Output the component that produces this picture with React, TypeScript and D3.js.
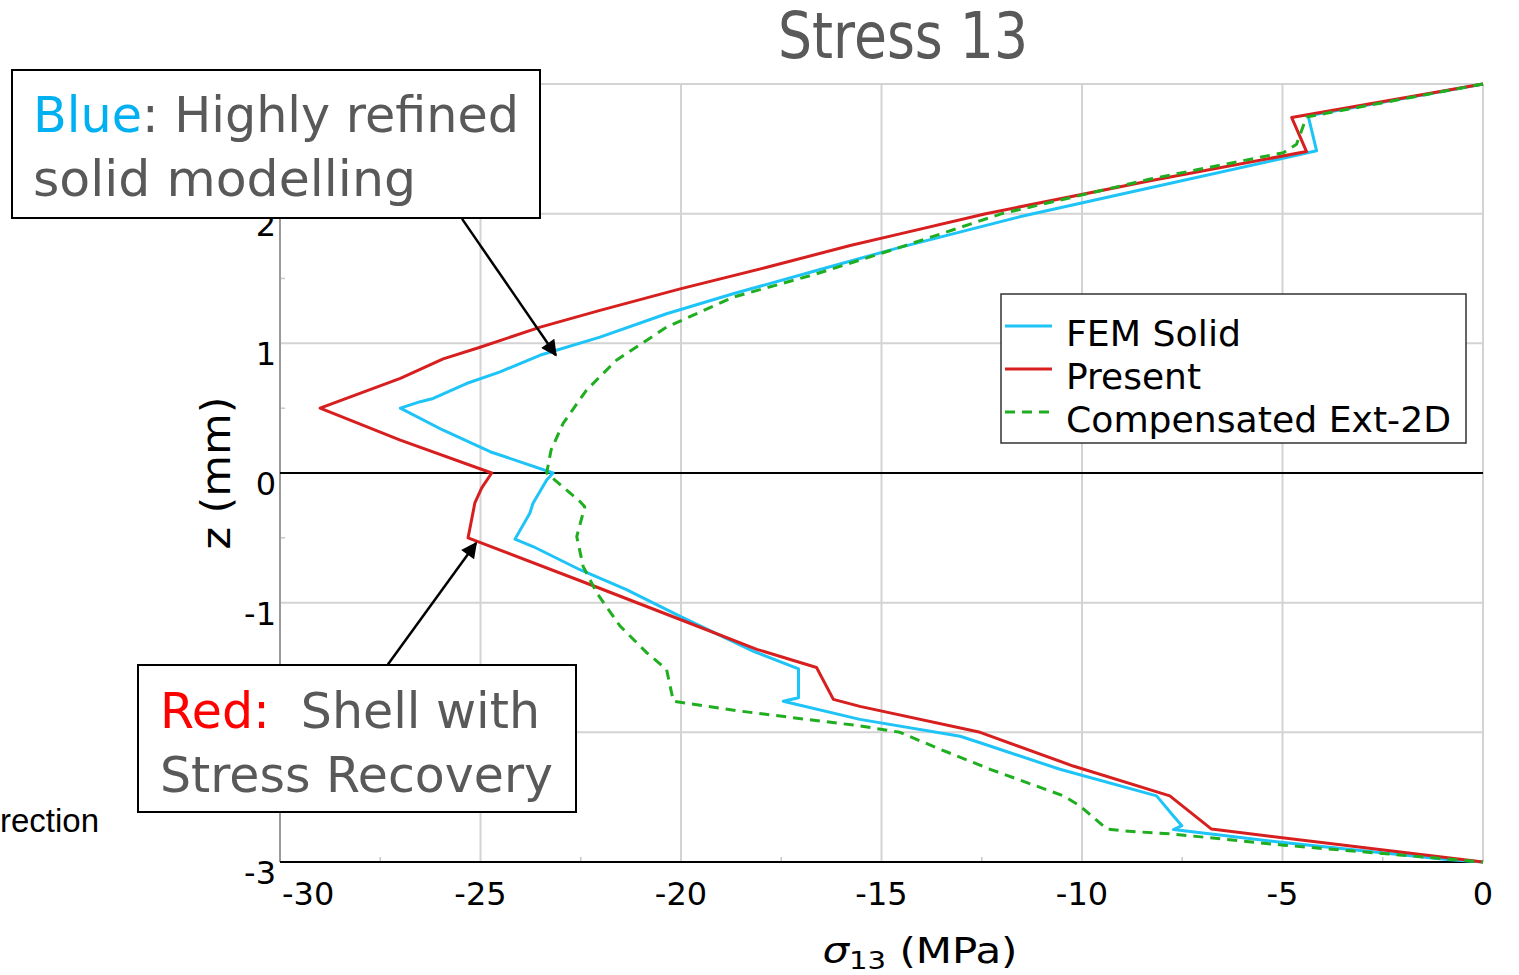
import React, { useEffect, useRef } from 'react';
import * as d3 from 'd3';

type Pt = [number, number]; // [sigma13 (MPa), z (mm)]

// FEM Solid (blue)
const femSolid: Pt[] = [
  [0, 3], [-4.36, 2.754], [-4.15, 2.485], [-8.3, 2.2], [-11.5, 1.98], [-14.54, 1.74],
  [-16.62, 1.562], [-18.7, 1.382], [-20.36, 1.228], [-22.02, 1.048], [-23.52, 0.908],
  [-24.51, 0.78], [-25.35, 0.69], [-26.18, 0.575], [-26.5, 0.55], [-27.0, 0.5],
  [-25.93, 0.33], [-24.76, 0.164], [-23.19, 0], [-23.35, -0.054], [-23.69, -0.233],
  [-23.77, -0.31], [-24.14, -0.51], [-23.69, -0.567], [-22.52, -0.746], [-21.36, -0.9],
  [-20.02, -1.105], [-18.19, -1.375], [-17.07, -1.51], [-17.07, -1.733], [-17.45, -1.76],
  [-15.54, -1.9], [-13.04, -2.03], [-12.54, -2.08], [-10.55, -2.285], [-8.14, -2.49],
  [-7.72, -2.645], [-7.51, -2.72], [-7.72, -2.75], [-4.98, -2.85], [-0.9, -2.98], [0, -3]
];

// Present (red)
const present: Pt[] = [
  [0, 3], [-4.77, 2.741], [-4.4, 2.479], [-8.3, 2.254], [-12.4, 2.0], [-14.54, 1.844],
  [-15.78, 1.754], [-17.86, 1.587], [-20.02, 1.42], [-22.02, 1.254], [-23.51, 1.125],
  [-25.01, 0.97], [-25.93, 0.88], [-27.0, 0.73], [-29.0, 0.5], [-27.0, 0.254],
  [-24.72, 0], [-24.97, -0.115], [-25.14, -0.23], [-25.31, -0.5], [-22.27, -0.86],
  [-20.02, -1.13], [-18.11, -1.36], [-16.62, -1.5], [-16.2, -1.746], [-15.54, -1.8],
  [-12.54, -2.0], [-10.22, -2.26], [-7.81, -2.49], [-6.77, -2.746], [0, -3]
];

// Compensated Ext-2D (green, dashed)
const compensated: Pt[] = [
  [0, 3], [-4.4, 2.746], [-4.65, 2.536], [-4.98, 2.47], [-8.3, 2.267], [-12.0, 2.0],
  [-14.54, 1.74], [-16.62, 1.536], [-18.7, 1.356], [-20.36, 1.125], [-21.61, 0.87],
  [-22.36, 0.638], [-22.94, 0.382], [-23.24, 0.177], [-23.35, 0], [-22.52, -0.22],
  [-22.4, -0.26], [-22.6, -0.49], [-22.44, -0.72], [-22.1, -0.925], [-21.52, -1.18],
  [-20.85, -1.387], [-20.36, -1.515], [-20.19, -1.76], [-18.53, -1.836], [-16.87, -1.9],
  [-15.54, -1.95], [-14.54, -2.0], [-13.54, -2.13], [-12.29, -2.285], [-10.46, -2.49],
  [-10.05, -2.567], [-9.38, -2.746], [-8.97, -2.76], [-7.72, -2.785], [-4.98, -2.87], [0, -3]
];

const xTicks = [-30, -25, -20, -15, -10, -5, 0];
const yTicks = [-3, -2, -1, 0, 1, 2, 3];
// labels 3 and -2 sit behind the annotation boxes in the source
const yTickLabels = [-3, -1, 0, 1, 2];
const xMinor = [-27.5, -22.5, -17.5, -12.5, -7.5, -2.5];
const yMinor = [-2.5, -1.5, -0.5, 0.5, 1.5, 2.5];

const seriesNames = ['FEM Solid', 'Present', 'Compensated Ext-2D'];
const seriesColors = ['#1ec3f7', '#d71f1f', '#1fae1f'];

// annotation arrows: [tail, head] in data units
const blueArrow: Pt[] = [[-25.46, 1.96], [-23.12, 0.908]];
const redArrow: Pt[] = [[-27.31, -1.477], [-25.11, -0.54]];

const W = 1519;
const H = 975;

const App: React.FC = () => {
  const svgRef = useRef<SVGSVGElement>(null);

  useEffect(() => {
    const svg = d3.select(svgRef.current);
    svg.selectAll('*').remove();

    const left = 280, right = 1483, top = 84, bottom = 862;
    const x = d3.scaleLinear().domain([-30, 0]).range([left, right]);
    const y = d3.scaleLinear().domain([-3, 3]).range([bottom, top]);

    const numFont = '"DejaVu Sans", Verdana, sans-serif';
    const slideFont = '"DejaVu Sans", sans-serif';
    const gray = '#595959';

    svg.append('rect').attr('width', W).attr('height', H).attr('fill', '#fff');

    // arrow marker
    svg.append('defs').append('marker')
      .attr('id', 'arrowHead')
      .attr('viewBox', '0 0 10 10')
      .attr('refX', 9)
      .attr('refY', 5)
      .attr('markerUnits', 'userSpaceOnUse')
      .attr('markerWidth', 20)
      .attr('markerHeight', 16)
      .attr('orient', 'auto')
      .append('path')
      .attr('d', 'M0,0 L10,5 L0,10 z')
      .attr('fill', '#000');

    // grid
    const grid = svg.append('g');
    grid.selectAll('line.v')
      .data(xTicks.filter(d => d !== -30))
      .enter().append('line')
      .attr('x1', d => x(d)).attr('x2', d => x(d))
      .attr('y1', top).attr('y2', bottom)
      .attr('stroke', '#d3d3d3').attr('stroke-width', 2);
    grid.selectAll('line.h')
      .data(yTicks.filter(d => d !== -3 && d !== 0))
      .enter().append('line')
      .attr('x1', left).attr('x2', right)
      .attr('y1', d => y(d)).attr('y2', d => y(d))
      .attr('stroke', '#d3d3d3').attr('stroke-width', 2);

    // minor ticks
    grid.selectAll('line.mx')
      .data(xMinor)
      .enter().append('line')
      .attr('x1', d => x(d)).attr('x2', d => x(d))
      .attr('y1', bottom).attr('y2', bottom - 5)
      .attr('stroke', '#c8c8c8').attr('stroke-width', 1.5);
    grid.selectAll('line.my')
      .data(yMinor)
      .enter().append('line')
      .attr('x1', left).attr('x2', left + 5)
      .attr('y1', d => y(d)).attr('y2', d => y(d))
      .attr('stroke', '#c8c8c8').attr('stroke-width', 1.5);

    // axes lines
    svg.append('line')
      .attr('x1', left).attr('x2', left).attr('y1', top).attr('y2', bottom)
      .attr('stroke', '#9a9a9a').attr('stroke-width', 2);
    svg.append('line')
      .attr('x1', left).attr('x2', right).attr('y1', bottom).attr('y2', bottom)
      .attr('stroke', '#000').attr('stroke-width', 2);
    svg.append('line')
      .attr('x1', left).attr('x2', right).attr('y1', y(0)).attr('y2', y(0))
      .attr('stroke', '#000').attr('stroke-width', 2);

    // tick labels
    svg.append('g').selectAll('text')
      .data(xTicks)
      .enter().append('text')
      .attr('x', d => (d === -30 ? x(d) + 2 : x(d)))
      .attr('y', bottom + 43)
      .attr('text-anchor', d => (d === -30 ? 'start' : 'middle'))
      .attr('font-family', numFont)
      .attr('font-size', 32)
      .attr('fill', '#000')
      .text(d => String(d));
    svg.append('g').selectAll('text')
      .data(yTickLabels)
      .enter().append('text')
      .attr('x', left - 4)
      .attr('y', d => y(d) + 22)
      .attr('text-anchor', 'end')
      .attr('font-family', numFont)
      .attr('font-size', 32)
      .attr('fill', '#000')
      .text(d => String(d));

    // axis titles
    const xl = svg.append('text')
      .attr('x', 920)
      .attr('y', 963)
      .attr('text-anchor', 'middle')
      .attr('font-family', numFont)
      .attr('font-size', 36)
      .attr('fill', '#000')
      .attr('textLength', 195)
      .attr('lengthAdjust', 'spacingAndGlyphs');
    xl.append('tspan').attr('font-style', 'italic').text('σ');
    xl.append('tspan').attr('font-size', 25).attr('dy', 6).text('13');
    xl.append('tspan').attr('dy', -6).style('white-space', 'pre').text(' (MPa)');

    svg.append('text')
      .attr('transform', `translate(230,${y(0)}) rotate(-90)`)
      .attr('text-anchor', 'middle')
      .attr('font-family', numFont)
      .attr('font-size', 40)
      .attr('fill', '#000')
      .attr('textLength', 153)
      .attr('lengthAdjust', 'spacingAndGlyphs')
      .text('z (mm)');

    // series
    const line = d3.line<Pt>().x(d => x(d[0])).y(d => y(d[1]));
    const allSeries = [femSolid, present, compensated];
    allSeries.forEach((s, i) => {
      svg.append('path')
        .attr('d', line(s) || '')
        .attr('fill', 'none')
        .attr('stroke', seriesColors[i])
        .attr('stroke-width', 3)
        .attr('stroke-linejoin', 'round')
        .attr('stroke-dasharray', i === 2 ? '10,7' : null);
    });

    // legend
    const lg = svg.append('g');
    lg.append('rect')
      .attr('x', 1001).attr('y', 294).attr('width', 465).attr('height', 149)
      .attr('fill', '#fff').attr('stroke', '#333').attr('stroke-width', 1.5);
    const legendWidths = [175, 135, 385];
    seriesNames.forEach((name, i) => {
      const cy = 326 + i * 43;
      lg.append('line')
        .attr('x1', 1005).attr('x2', 1052).attr('y1', cy).attr('y2', cy)
        .attr('stroke', seriesColors[i]).attr('stroke-width', 3)
        .attr('stroke-dasharray', i === 2 ? '10,7' : null);
      lg.append('text')
        .attr('x', 1066).attr('y', cy + 20)
        .attr('font-family', numFont)
        .attr('font-size', 35)
        .attr('fill', '#000')
        .attr('textLength', legendWidths[i])
        .attr('lengthAdjust', 'spacingAndGlyphs')
        .text(name);
    });

    // stray slide text on the left
    svg.append('text')
      .attr('x', 0).attr('y', 832)
      .attr('font-family', '"Liberation Sans", Arial, sans-serif')
      .attr('font-size', 33)
      .attr('fill', '#000')
      .text('rection');

    // annotation boxes
    const box = (bx: number, by: number, bw: number, bh: number) =>
      svg.append('rect')
        .attr('x', bx).attr('y', by).attr('width', bw).attr('height', bh)
        .attr('fill', '#fff').attr('stroke', '#000').attr('stroke-width', 2);
    const slideText = (tx: number, ty: number, len: number) =>
      svg.append('text')
        .attr('x', tx).attr('y', ty)
        .attr('font-family', slideFont)
        .attr('font-size', 50)
        .attr('fill', gray)
        .attr('textLength', len)
        .attr('lengthAdjust', 'spacingAndGlyphs')
        .style('white-space', 'pre');

    box(12, 70, 528, 148);
    const b1 = slideText(33, 132, 486);
    b1.append('tspan').attr('fill', '#00b0f0').text('Blue');
    b1.append('tspan').text(': Highly refined');
    slideText(33, 196, 383).text('solid modelling');

    box(138, 665, 438, 147);
    const r1 = slideText(160, 728, 380);
    r1.append('tspan').attr('fill', '#ff0000').text('Red:');
    r1.append('tspan').text('  Shell with');
    slideText(160, 792, 393).text('Stress Recovery');

    // arrows
    [blueArrow, redArrow].forEach(a => {
      svg.append('line')
        .attr('x1', x(a[0][0])).attr('y1', y(a[0][1]))
        .attr('x2', x(a[1][0])).attr('y2', y(a[1][1]))
        .attr('stroke', '#000').attr('stroke-width', 2.5)
        .attr('marker-end', 'url(#arrowHead)');
    });

    // title
    svg.append('text')
      .attr('x', 903).attr('y', 58)
      .attr('text-anchor', 'middle')
      .attr('font-family', slideFont)
      .attr('font-size', 64)
      .attr('fill', gray)
      .attr('textLength', 250)
      .attr('lengthAdjust', 'spacingAndGlyphs')
      .text('Stress 13');
  }, []);

  return (
    <svg
      ref={svgRef}
      width={W}
      height={H}
      style={{ position: 'absolute', left: 0, top: 0, display: 'block' }}
    />
  );
};

export default App;
